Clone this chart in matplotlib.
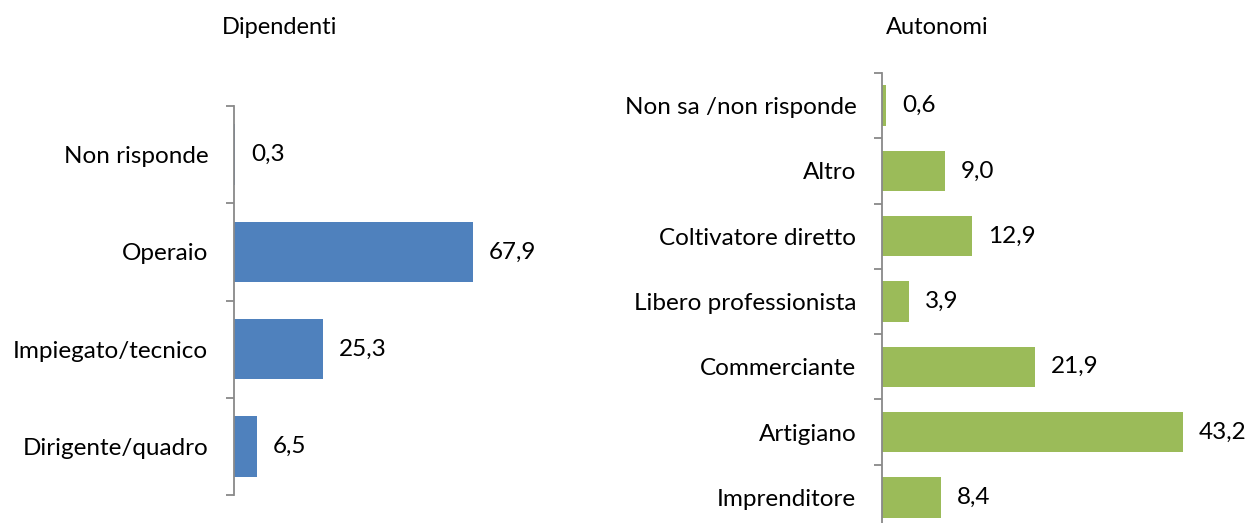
import matplotlib
matplotlib.use("Agg")
import matplotlib.pyplot as plt
import numpy as np

plt.rcParams['font.family'] = ['Lato', 'DejaVu Sans']

dip_labels = ["Non risponde", "Operaio", "Impiegato/tecnico", "Dirigente/quadro"]
dip_values = [0.3, 67.9, 25.3, 6.5]
aut_labels = ["Non sa /non risponde", "Altro", "Coltivatore diretto",
              "Libero professionista", "Commerciante", "Artigiano", "Imprenditore"]
aut_values = [0.6, 9.0, 12.9, 3.9, 21.9, 43.2, 8.4]

W, H = 1249, 523
fig = plt.figure(figsize=(W / 100, H / 100), dpi=100)

def make_axes(x0, ytop, ybot, width_px):
    return fig.add_axes([x0 / W, 1 - ybot / H, width_px / W, (ybot - ytop) / H])

def draw(ax, labels, values, color, scale, width_px, fs=17.5):
    n = len(labels)
    y = np.arange(n)
    ax.barh(y, values, height=0.62, color=color)
    ax.set_ylim(n - 0.5, -0.5)
    ax.set_xlim(0, width_px / scale)
    for s in ['top', 'right', 'bottom']:
        ax.spines[s].set_visible(False)
    ax.spines['left'].set_color('#898989')
    ax.spines['left'].set_linewidth(1.3)
    ax.set_xticks([])
    ax.set_yticks(y)
    ax.set_yticklabels(labels, fontsize=fs)
    ax.tick_params(axis='y', which='major', length=0, pad=18.5)
    ax.set_yticks(np.arange(n + 1) - 0.5, minor=True)
    ax.tick_params(axis='y', which='minor', length=6, width=1.3, color='#898989')
    for yi, v in zip(y, values):
        ax.annotate(f"{v:.1f}".replace('.', ','), (v, yi), xytext=(16, 0),
                    textcoords='offset pixels',
                    va='center', ha='left', fontsize=fs)
    ax.patch.set_visible(False)

ax1 = make_axes(234, 106, 495, 290)
draw(ax1, dip_labels, dip_values, '#4F81BD', 3.52, 290)
ax2 = make_axes(882, 73, 530, 360)
draw(ax2, aut_labels, aut_values, '#9BBB59', 6.97, 360)

fig.text(279.5 / W, 1 - 28 / H, "Dipendenti", ha='center', va='center', fontsize=17)
fig.text(937 / W, 1 - 28 / H, "Autonomi", ha='center', va='center', fontsize=17)

fig.savefig("out.png", dpi=100)
